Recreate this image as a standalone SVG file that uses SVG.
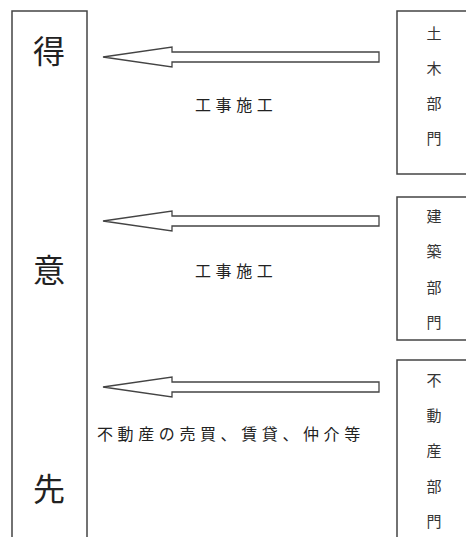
<svg xmlns="http://www.w3.org/2000/svg" width="466" height="537" viewBox="0 0 466 537">
<style>
.box{fill:#fff;stroke:#444;stroke-width:1.5}
.arrow{fill:#fff;stroke:#444;stroke-width:1.3;stroke-linejoin:miter}
.big{font-family:"Noto Sans CJK JP","Noto Sans CJK SC",sans-serif;font-size:32px;fill:#222;text-anchor:middle}
.v{font-family:"Noto Sans CJK JP","Noto Sans CJK SC",sans-serif;font-size:15px;fill:#333;text-anchor:middle}
.lbl{font-family:"Noto Sans CJK JP","Noto Sans CJK SC",sans-serif;font-size:16px;fill:#222;letter-spacing:4.6px}
</style>
<rect width="466" height="537" fill="#fff"/>
<g id="tokuisaki">
<rect class="box" x="12" y="11" width="75" height="540"/>
<text class="big" x="49" y="63">得</text>
<text class="big" x="49" y="282">意</text>
<text class="big" x="49" y="501">先</text>
</g>
<g id="doboku">
<rect class="box" x="397" y="11" width="80" height="163"/>
<text class="v" x="434" y="39">土</text>
<text class="v" x="434" y="74">木</text>
<text class="v" x="434" y="109">部</text>
<text class="v" x="434" y="144">門</text>
</g>
<g id="kenchiku">
<rect class="box" x="397" y="197" width="80" height="143"/>
<text class="v" x="434" y="222">建</text>
<text class="v" x="434" y="257">築</text>
<text class="v" x="434" y="293">部</text>
<text class="v" x="434" y="328">門</text>
</g>
<g id="fudosan">
<rect class="box" x="397" y="360" width="80" height="190"/>
<text class="v" x="434" y="386">不</text>
<text class="v" x="434" y="421">動</text>
<text class="v" x="434" y="456">産</text>
<text class="v" x="434" y="492">部</text>
<text class="v" x="434" y="527">門</text>
</g>
<g id="connectors">
<polygon class="arrow" points="103,57 172,47 172,52 379,52 379,62 172,62 172,67"/>
<polygon class="arrow" points="103,221 172,211 172,216 379,216 379,226 172,226 172,231"/>
<polygon class="arrow" points="103,387 172,377 172,382 379,382 379,392 172,392 172,397"/>
<text class="lbl" x="195" y="111">工事施工</text>
<text class="lbl" x="195" y="277">工事施工</text>
<text class="lbl" x="97" y="440">不動産の売買、賃貸、仲介等</text>
</g>
</svg>
